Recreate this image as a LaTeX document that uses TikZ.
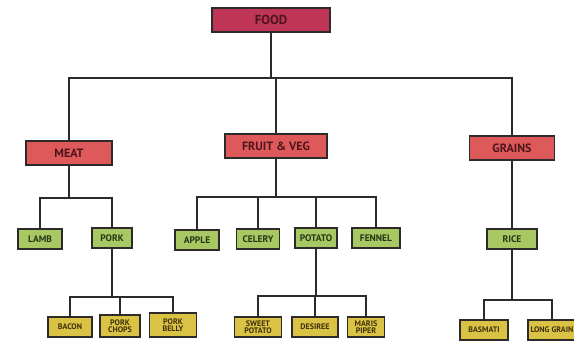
\documentclass[tikz,border=0pt]{standalone}
\usepackage{fontspec}
\setmainfont{PT Sans}
\definecolor{rootfill}{HTML}{BE3556}
\definecolor{catfill}{HTML}{DE5A5A}
\definecolor{leaffill}{HTML}{A8C864}
\definecolor{subfill}{HTML}{D9C244}
\definecolor{inkc}{HTML}{2E2A2A}
\definecolor{redtext}{HTML}{4E141C}
\definecolor{greentext}{HTML}{263514}
\definecolor{yellowtext}{HTML}{3E300C}
\tikzset{
  box/.style={draw=inkc, line width=1.8pt, inner sep=0pt, align=center},
  rootbox/.style={box, fill=rootfill, text=redtext, font=\bfseries\fontsize{13}{13}\selectfont},
  catbox/.style={box, fill=catfill, text=redtext, font=\bfseries\fontsize{12}{12}\selectfont},
  leafbox/.style={box, fill=leaffill, text=greentext, font=\bfseries\fontsize{9.5}{9.5}\selectfont},
  subbox/.style={box, fill=subfill, text=yellowtext, font=\bfseries\fontsize{8}{7.5}\selectfont},
  link/.style={draw=inkc, line width=1.8pt}
}
\begin{document}
\begin{tikzpicture}[x=1pt,y=-1pt]
\useasboundingbox (0,0) rectangle (574,348);
% nodes
\node[rootbox, minimum width=118pt, minimum height=24pt] (food) at (271,20) {FOOD};
\node[catbox, minimum width=86pt, minimum height=24pt] (meat) at (69,153) {MEAT};
\node[catbox, minimum width=102pt, minimum height=24pt] (fv) at (276,146) {FRUIT \& VEG};
\node[catbox, minimum width=85pt, minimum height=24pt] (grains) at (512,148) {GRAINS};
\node[leafbox, minimum width=44pt, minimum height=20pt] (lamb) at (40,239) {LAMB};
\node[leafbox, minimum width=40pt, minimum height=20pt] (pork) at (112,238) {PORK};
\node[leafbox, minimum width=44pt, minimum height=20pt] (apple) at (197,240) {APPLE};
\node[leafbox, minimum width=43pt, minimum height=20pt] (celery) at (258,239) {CELERY};
\node[leafbox, minimum width=42pt, minimum height=20pt] (potato) at (316,238) {POTATO};
\node[leafbox, minimum width=48pt, minimum height=20pt] (fennel) at (376,238) {FENNEL};
\node[leafbox, minimum width=50pt, minimum height=20pt] (rice) at (512,239) {RICE};
\node[subbox, minimum width=44pt, minimum height=20pt] (bacon) at (70,327) {BACON};
\node[subbox, minimum width=40pt, minimum height=22pt] (chops) at (120,326) {PORK\\CHOPS};
\node[subbox, minimum width=47pt, minimum height=24pt] (belly) at (173,325) {PORK\\BELLY};
\node[subbox, minimum width=47pt, minimum height=20pt] (sweet) at (258,327) {SWEET\\POTATO};
\node[subbox, minimum width=46pt, minimum height=20pt] (desiree) at (315,327) {DESIREE};
\node[subbox, minimum width=37pt, minimum height=20pt] (maris) at (366,327) {MARIS\\PIPER};
\node[subbox, minimum width=48pt, minimum height=20pt] (basmati) at (484,330) {BASMATI};
\node[subbox, minimum width=48pt, minimum height=20pt] (longgrain) at (552,330) {LONG GRAIN};
% bus coordinates
\coordinate (b0) at (275,78);
\coordinate (bm) at (70,198);
\coordinate (bf) at (278,197);
\coordinate (bp) at (112,297);
\coordinate (bq) at (316,296);
\coordinate (br) at (512,300);
% connectors
\draw[link] (food) -- (food |- b0);
\draw[link] (meat) |- (b0) -| (grains);
\draw[link] (fv) -- (fv |- b0);
\draw[link] (meat) -- (meat |- bm);
\draw[link] (lamb) |- (bm) -| (pork);
\draw[link] (fv) -- (fv |- bf);
\draw[link] (apple) |- (bf) -| (fennel);
\draw[link] (celery) -- (celery |- bf);
\draw[link] (potato) -- (potato |- bf);
\draw[link] (grains) -- (rice);
\draw[link] (pork) -- (pork |- bp);
\draw[link] (bacon) |- (bp) -| (belly);
\draw[link] (chops) -- (chops |- bp);
\draw[link] (potato) -- (potato |- bq);
\draw[link] (sweet) |- (bq) -| (maris);
\draw[link] (desiree) -- (desiree |- bq);
\draw[link] (rice) -- (rice |- br);
\draw[link] (basmati) |- (br) -| (longgrain);
\end{tikzpicture}
\end{document}
